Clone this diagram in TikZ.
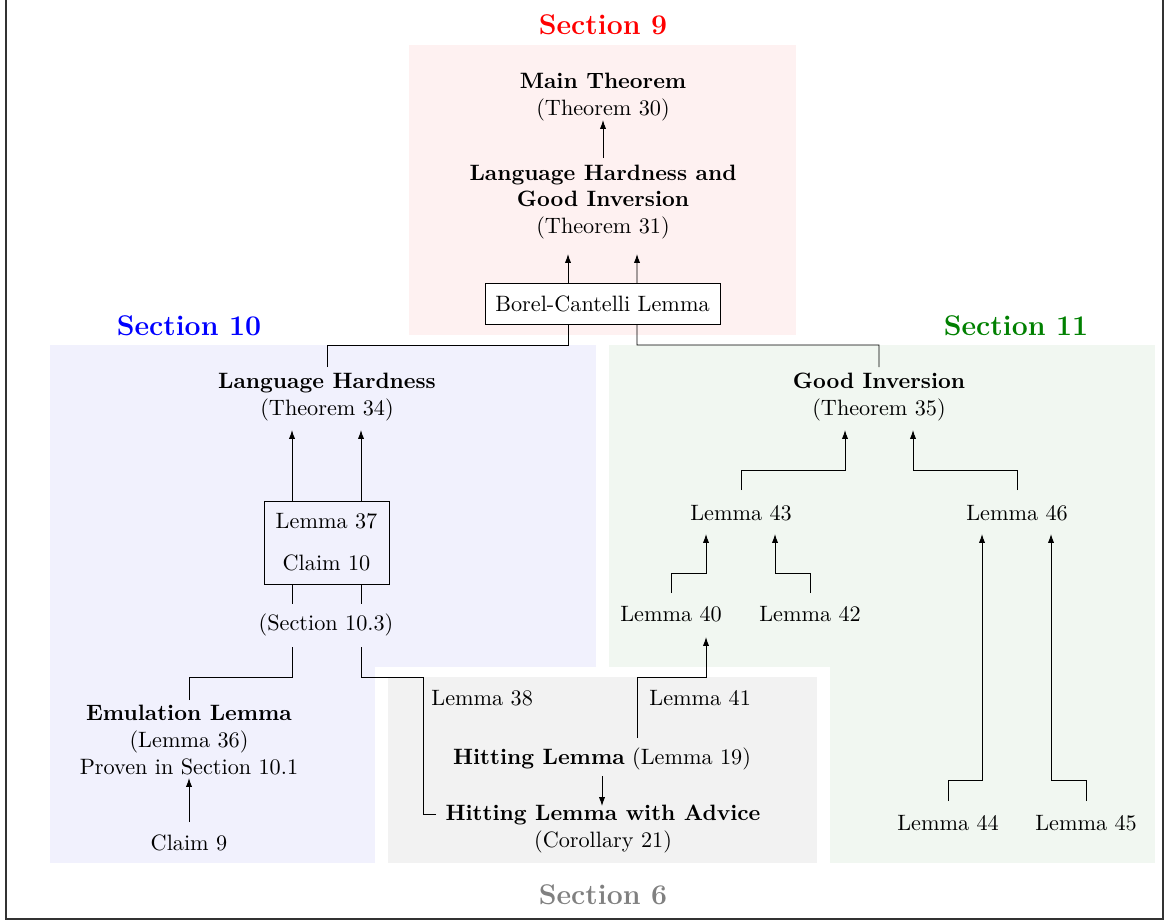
\documentclass[tikz,border=0pt]{standalone}
\usetikzlibrary{arrows.meta,calc}
\pgfdeclarelayer{bg}
\pgfdeclarelayer{edges}
\pgfsetlayers{bg,edges,main}
\definecolor{pinkbg}{HTML}{FEF1F1}
\definecolor{lavbg}{HTML}{F1F1FD}
\definecolor{greenbg}{HTML}{F1F7F1}
\definecolor{graybg}{HTML}{F2F2F2}
\definecolor{secgreen}{HTML}{008000}
\definecolor{secgray}{HTML}{808080}
\begin{document}
\begin{tikzpicture}[x=0.45pt,y=-0.45pt,
  txt/.style={inner sep=0pt, align=center},
  sectitle/.style={inner sep=0pt, font=\fontsize{12.8}{15}\selectfont\bfseries},
  framebox/.style={draw, line width=0.4pt, inner sep=0pt, align=center},
  arr/.style={-{Latex[length=4pt,width=2.8pt]}, line width=0.4pt},
  link/.style={line width=0.4pt}]
\useasboundingbox (0,0) rectangle (1167,922);

% backgrounds
\begin{pgfonlayer}{bg}
  \fill[pinkbg] (409,45) rectangle (796,335);
  \fill[lavbg] (50,345) rectangle (596,863);
  \fill[greenbg] (609,345) rectangle (1155,863);
  \fill[white] (375,667) rectangle (830,863);
  \fill[graybg] (388,677) rectangle (817,863);
  \draw[line width=0.6pt, black!80] (6,-5) -- (6,919) -- (1163,919) -- (1163,-5);
\end{pgfonlayer}

% section titles
\node[sectitle, text=red] (s9) at (603,25) {Section 9};
\node[sectitle, text=blue] (s10) at (189,326) {Section 10};
\node[sectitle, text=secgreen] (s11) at (1016,326) {Section 11};
\node[sectitle, text=secgray] (s6) at (603,895) {Section 6};

% section 9
\node[txt] (mt) at (603,97) {\textbf{Main Theorem}\\(Theorem 30)};
\node[txt] (t31) at (603,202) {\textbf{Language Hardness and}\\\textbf{Good Inversion}\\(Theorem 31)};
\node[framebox, fill=white, minimum width=105.75pt, minimum height=18.45pt] (bc) at (602.5,304) {Borel-Cantelli Lemma};

% section 10
\node[txt] (lh) at (327,397) {\textbf{Language Hardness}\\(Theorem 34)};
\node[framebox, fill=lavbg, minimum width=56.25pt, minimum height=37.35pt] (b37) at (326.5,542.5) {Lemma 37\\[6.9pt]Claim 10};
\node[txt, fill=lavbg, inner xsep=1pt, minimum height=19.35pt] (s103) at (326,625) {(Section 10.3)};
\node[txt] (em) at (189,740) {\textbf{Emulation Lemma}\\(Lemma 36)\\Proven in Section 10.1};
\node[txt] (c9) at (189,843) {Claim 9};

% section 6
\node[txt, anchor=west] (l38) at (431,698) {Lemma 38};
\node[txt, anchor=west] (l41) at (649,698) {Lemma 41};
\node[txt] (hl) at (602,759) {\textbf{Hitting Lemma} (Lemma 19)};
\node[txt] (hla) at (603,829) {\textbf{Hitting Lemma with Advice}\\(Corollary 21)};

% section 11
\node[txt] (gi) at (879,397) {\textbf{Good Inversion}\\(Theorem 35)};
\node[txt] (l43) at (741,513) {Lemma 43};
\node[txt] (l46) at (1017,513) {Lemma 46};
\node[txt] (l40) at (671,614) {Lemma 40};
\node[txt] (l42) at (810,614) {Lemma 42};
\node[txt] (l44) at (948,823) {Lemma 44};
\node[txt] (l45) at (1086,823) {Lemma 45};

% connectors
\begin{pgfonlayer}{edges}
  \draw[arr] ($(t31.center)+(0,-44)$) -- ($(mt.center)+(0,23)$);
  \draw[arr] ($(lh.center)+(0,-30)$) |- ($(bc.center)+(-34.5,41)$) -- ($(t31.center)+(-35,52)$);
  \draw[arr] ($(gi.center)+(0,-30)$) |- ($(bc.center)+(34.5,41)$) -- ($(t31.center)+(34,52)$);
  \draw[arr] ($(em.center)+(0,-40)$) |- ($(s103.center)+(-34,52)$) -- ($(lh.center)+(-35,33)$);
  \draw[arr] ($(hla.center)+(-167,-15)$) -| ($(s103.center)+(97,52)$) -| ($(lh.center)+(34,33)$);
  \draw[arr] ($(c9.center)+(0,-21)$) -- ($(em.center)+(0,38)$);
  \draw[arr] ($(hl.center)+(0,17)$) -- ($(hla.center)+(-1,-23)$);
  \draw[arr] ($(hl.center)+(35,-21)$) |- ($(l40.center)+(35,63)$) -- ($(l40.center)+(35,23)$);
  \draw[arr] ($(l40.center)+(0,-21)$) |- ($(l43.center)+(-35,60)$) -- ($(l43.center)+(-35,21)$);
  \draw[arr] ($(l42.center)+(0,-21)$) |- ($(l43.center)+(34,60)$) -- ($(l43.center)+(34,21)$);
  \draw[arr] ($(l43.center)+(0,-23)$) |- ($(gi.center)+(-34,73)$) -- ($(gi.center)+(-34,33)$);
  \draw[arr] ($(l46.center)+(0,-23)$) |- ($(gi.center)+(34,73)$) -- ($(gi.center)+(34,33)$);
  \draw[arr] ($(l44.center)+(0,-22)$) |- ($(l46.center)+(-35,267)$) -- ($(l46.center)+(-35,21)$);
  \draw[arr] ($(l45.center)+(0,-22)$) |- ($(l46.center)+(34,267)$) -- ($(l46.center)+(34,21)$);
\end{pgfonlayer}
\end{tikzpicture}
\end{document}
